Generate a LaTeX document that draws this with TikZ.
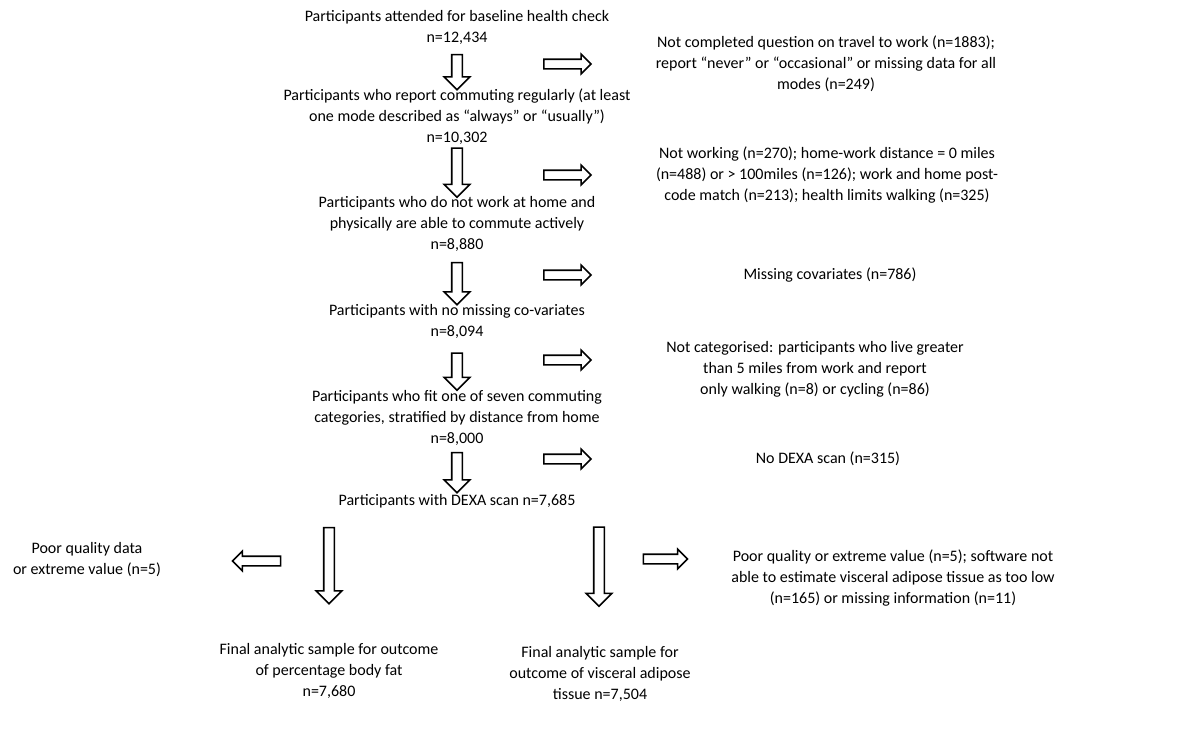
\documentclass[tikz,border=0pt]{standalone}
\usepackage{fontspec}
\setmainfont{Carlito}
\usetikzlibrary{shapes.arrows}

\tikzset{
	txt/.style={align=center, font=\fontsize{16}{21}\selectfont, inner sep=0pt},
	blockarr/.style={single arrow, draw=black, line width=1.6pt, inner xsep=0pt, inner ysep=4.5pt,
		single arrow head extend=7.5pt, single arrow head indent=0pt, minimum height=#1},
	downarr/.style={blockarr=#1, rotate=-90},
	rightarr/.style={blockarr=#1, inner ysep=4pt, single arrow head extend=5pt},
	leftarr/.style={rightarr=#1, rotate=180}
}

\begin{document}
\begin{tikzpicture}[x=1pt,y=-1pt]
	
	\useasboundingbox (0,0) rectangle (1194,740);
	
	% main column
	\node[txt] (base) at (457,27) {Participants attended for baseline health check\\n=12,434};
	\node[txt] (commute) at (457,117) {Participants who report commuting regularly (at least\\one mode described as “always” or “usually”)\\n=10,302};
	\node[txt] (able) at (457,224) {Participants who do not work at home and\\physically are able to commute actively\\n=8,880};
	\node[txt] (covar) at (457,321) {Participants with no missing co-variates\\n=8,094};
	\node[txt] (categ) at (457,418) {Participants who fit one of seven commuting\\categories, stratified by distance from home\\n=8,000};
	\node[txt] (dexa) at (457,501) {Participants with DEXA scan n=7,685};
	
	% final samples
	\node[txt] (fatfinal) at (329,671) {Final analytic sample for outcome\\of percentage body fat\\n=7,680};
	\node[txt] (vatfinal) at (600,674) {Final analytic sample for\\outcome of visceral adipose\\tissue n=7,504};
	
	% exclusions
	\node[txt] (excl1) at (826,64) {Not completed question on travel to work (n=1883);\\report “never” or “occasional” or missing data for all\\modes (n=249)};
	\node[txt] (excl2) at (827,175) {Not working (n=270); home-work distance = 0 miles\\(n=488) or > 100miles (n=126); work and home post-\\code match (n=213); health limits walking (n=325)};
	\node[txt] (excl3) at (830,275) {Missing covariates (n=786)};
	\node[txt] (excl4) at (815,369) {Not categorised: participants who live greater\\than 5 miles from work and report\\only walking (n=8) or cycling (n=86)};
	\node[txt] (excl5) at (828,459) {No DEXA scan (n=315)};
	\node[txt] (fatexcl) at (87,560) {Poor quality data\\or extreme value (n=5)};
	\node[txt] (vatexcl) at (893,578) {Poor quality or extreme value (n=5); software not\\able to estimate visceral adipose tissue as too low\\(n=165) or missing information (n=11)};
	
	% block arrows down
	\node[downarr=35] (d1) at (457,69.5) {};
	\node[downarr=49] (d2) at (457,170) {};
	\node[downarr=42] (d3) at (457,281) {};
	\node[downarr=37] (d4) at (457,369) {};
	\node[downarr=40] (d5) at (457,470) {};
	\node[downarr=76] (dfat) at (329,563) {};
	\node[downarr=79] (dvat) at (599,564) {};
	
	% block arrows sideways
	\foreach \y [count=\i] in {64,175,275,360,459}{
		\node[rightarr=47] (r\i) at (565,\y) {};
	}
	\node[rightarr=44] (rvat) at (663,559) {};
	\node[leftarr=48] (lfat) at (259,561) {};
	
\end{tikzpicture}
\end{document}
